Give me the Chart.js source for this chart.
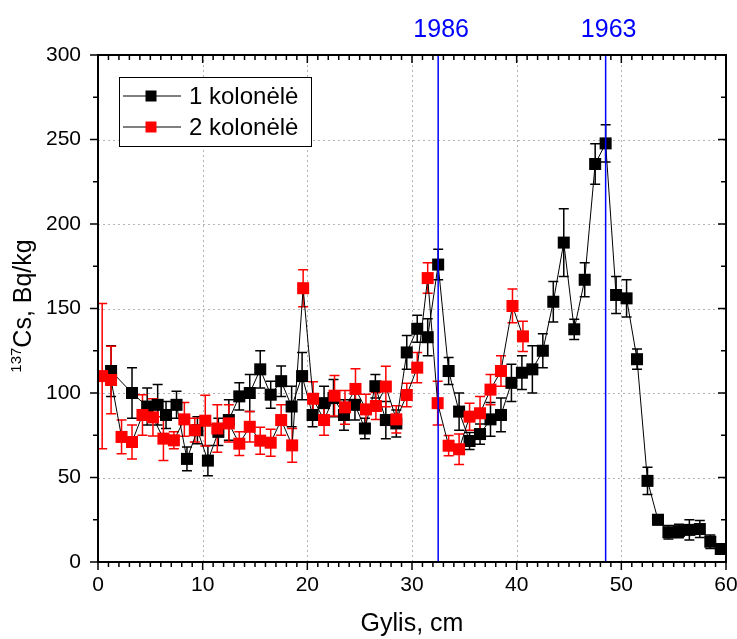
<!DOCTYPE html>
<html>
<head>
<meta charset="utf-8">
<script src="https://cdn.jsdelivr.net/npm/chart.js@4.4.0/dist/chart.umd.min.js"></script>
<style>
  html, body { margin: 0; padding: 0; background: #ffffff; }
  canvas { display: block; }
</style>
</head>
<body>
<canvas id="c" width="737" height="639"></canvas>
<script>
// ---- Data ----
const seriesLabels = ["1 kolonėlė", "2 kolonėlė"];

const depth1 = [1.25, 3.25, 4.7, 5.7, 6.5, 7.5, 8.5, 9.5, 10.5, 11.5, 12.5, 13.5, 14.5, 15.5, 16.5, 17.5, 18.5, 19.5, 20.5, 21.6, 22.5, 23.5, 24.55, 25.5, 26.5, 27.5, 28.5, 29.5, 30.5, 31.5, 32.5, 33.5, 34.5, 35.5, 36.5, 37.5, 38.5, 39.5, 40.5, 41.5, 42.5, 43.5, 44.5, 45.5, 46.5, 47.5, 48.5, 49.5, 50.5, 51.5, 52.5, 53.5, 54.5, 55.5, 56.5, 57.5, 58.5, 59.5];
const cs1    = [113, 100, 92, 93, 87, 93, 61, 78, 60, 77, 84, 98, 100, 114, 99, 107, 92, 110, 87, 94, 97, 87, 93, 79, 104, 84, 82, 124, 138, 133, 176, 113, 89, 71.6, 75.7, 84.4, 87, 106, 112, 114, 125, 154, 189, 137.7, 167, 235.5, 247.7, 158, 156, 120, 48, 25, 17.6, 18.3, 19, 19.5, 12, 7.7];
const err1   = [15, 15, 11, 12, 8, 8, 7, 8, 9, 8, 12, 8, 11, 11, 8, 9, 12, 14, 7, 10, 11, 9, 9, 6, 7, 11, 8, 10, 8, 11, 9, 8, 11, 5, 6, 10, 10, 11, 10, 14, 10, 12, 20, 6, 10, 12, 11, 11, 11, 6, 8, 3, 4, 4, 6, 5, 4, 3];

const depth2 = [0.4, 1.25, 2.25, 3.25, 4.25, 5.25, 6.25, 7.25, 8.25, 9.25, 10.25, 11.4, 12.5, 13.5, 14.5, 15.5, 16.5, 17.5, 18.55, 19.6, 20.55, 21.6, 22.6, 23.6, 24.6, 25.6, 26.55, 27.5, 28.5, 29.5, 30.5, 31.5, 32.45, 33.5, 34.5, 35.5, 36.5, 37.5, 38.5, 39.6, 40.6];
const cs2    = [110, 107.7, 74, 71, 87, 85.6, 73, 72, 84.4, 78, 83.6, 79, 82, 70, 80, 71.8, 70.6, 84, 69, 162, 96.6, 84, 98.4, 91.5, 102.4, 90.3, 92.3, 103.8, 84.4, 98.8, 115, 168, 94, 68.8, 66.7, 86, 88, 102, 113, 151.5, 133.5];
const err2   = [43, 20, 10, 10, 12, 11, 13, 5, 10, 7, 15, 14, 11, 7, 9, 8, 8, 9, 10, 11, 10, 9, 12, 10, 12, 9, 8, 12, 8, 7, 9, 9, 13, 6, 9, 8, 10, 9, 9, 10, 9];

const markerYears = ["1986", "1963"];
const markerDepths = [32.5, 48.5];

const xTicks = [0, 10, 20, 30, 40, 50, 60];
const yTicks = [0, 50, 100, 150, 200, 250, 300];

const colors = ["#000000", "#ff0000"];
const FONT = "'Liberation Sans', Arial, Helvetica, sans-serif";

function toPoints(xs, ys, es) {
  return xs.map((x, i) => ({ x: x, y: ys[i], e: es[i] }));
}

// ---- Plugins ----
const framePlugin = {
  id: 'frame',
  beforeDatasetsDraw(chart) {
    const { ctx, chartArea: a, scales: { x, y } } = chart;
    ctx.save();
    // dotted grid
    ctx.strokeStyle = '#b4b4b4';
    ctx.lineWidth = 1;
    ctx.setLineDash([2, 3]);
    xTicks.slice(1, -1).forEach(v => {
      const px = Math.round(x.getPixelForValue(v)) + 0.5;
      ctx.beginPath(); ctx.moveTo(px, a.top); ctx.lineTo(px, a.bottom); ctx.stroke();
    });
    yTicks.slice(1, -1).forEach(v => {
      const py = Math.round(y.getPixelForValue(v)) + 0.5;
      ctx.beginPath(); ctx.moveTo(a.left, py); ctx.lineTo(a.right, py); ctx.stroke();
    });
    ctx.setLineDash([]);
    // error bars
    chart.data.datasets.forEach((ds, di) => {
      ctx.strokeStyle = ds.pointBackgroundColor;
      ctx.lineWidth = 1.5;
      ds.data.forEach(p => {
        const px = x.getPixelForValue(p.x);
        const pt = y.getPixelForValue(p.y + p.e);
        const pb = y.getPixelForValue(p.y - p.e);
        ctx.beginPath();
        ctx.moveTo(px, pt); ctx.lineTo(px, pb);
        ctx.moveTo(px - 5, pt); ctx.lineTo(px + 5, pt);
        ctx.moveTo(px - 5, pb); ctx.lineTo(px + 5, pb);
        ctx.stroke();
      });
    });
    ctx.restore();
  },
  afterDatasetsDraw(chart) {
    const { ctx, chartArea: a, scales: { x, y } } = chart;
    ctx.save();
    // blue reference lines and years
    ctx.strokeStyle = '#0000ff';
    ctx.lineWidth = 1.5;
    ctx.fillStyle = '#0000ff';
    ctx.font = '25px ' + FONT;
    ctx.textAlign = 'center';
    ctx.textBaseline = 'middle';
    markerDepths.forEach((d, i) => {
      const px = x.getPixelForValue(d);
      ctx.beginPath(); ctx.moveTo(px, a.top); ctx.lineTo(px, a.bottom); ctx.stroke();
      ctx.fillText(markerYears[i], px + 3, 30);
    });
    // ticks
    ctx.strokeStyle = '#000000';
    ctx.lineWidth = 1.5;
    for (let v = 0; v <= 60; v += 1) {
      const px = x.getPixelForValue(v);
      const major = v % 10 === 0;
      const L = major ? 8 : 5;
      ctx.beginPath();
      ctx.moveTo(px, a.bottom); ctx.lineTo(px, a.bottom + L);
      ctx.moveTo(px, a.top); ctx.lineTo(px, a.top + L);
      ctx.stroke();
    }
    for (let v = 0; v <= 300; v += 25) {
      const py = y.getPixelForValue(v);
      const major = v % 50 === 0;
      const L = major ? 8 : 5;
      ctx.beginPath();
      ctx.moveTo(a.left, py); ctx.lineTo(a.left - L, py);
      ctx.moveTo(a.right, py); ctx.lineTo(a.right - L, py);
      ctx.stroke();
    }
    // frame
    ctx.lineWidth = 2;
    ctx.strokeRect(a.left, a.top, a.right - a.left, a.bottom - a.top);
    ctx.restore();
  },
  afterDraw(chart) {
    const { ctx } = chart;
    ctx.save();
    // y-axis title with superscript
    ctx.translate(24, 306);
    ctx.rotate(-Math.PI / 2);
    ctx.fillStyle = '#000';
    ctx.textBaseline = 'middle';
    ctx.textAlign = 'left';
    const sup = '137', main = 'Cs, Bq/kg';
    ctx.font = '15px ' + FONT;
    const wSup = ctx.measureText(sup).width;
    ctx.font = '25px ' + FONT;
    const wMain = ctx.measureText(main).width;
    const start = -(wSup + wMain) / 2;
    ctx.font = '15px ' + FONT;
    ctx.fillText(sup, start, -7);
    ctx.font = '25px ' + FONT;
    ctx.fillText(main, start + wSup, 0);
    ctx.restore();

    // legend
    ctx.save();
    const bx = 119.5, by = 77.5, bw = 192, bh = 69;
    ctx.fillStyle = '#fff';
    ctx.fillRect(bx, by, bw, bh);
    ctx.strokeStyle = '#000';
    ctx.lineWidth = 1;
    ctx.strokeRect(bx, by, bw, bh);
    const rows = [96, 127];
    chart.data.datasets.forEach((ds, i) => {
      const yy = rows[i];
      ctx.strokeStyle = '#000';
      ctx.lineWidth = 1;
      ctx.beginPath(); ctx.moveTo(123, yy); ctx.lineTo(181, yy); ctx.stroke();
      ctx.fillStyle = ds.pointBackgroundColor;
      ctx.fillRect(151 - 5.5, yy - 5.5, 11, 11);
      ctx.fillStyle = '#000';
      ctx.font = '24px ' + FONT;
      ctx.textAlign = 'left';
      ctx.textBaseline = 'middle';
      ctx.fillText(ds.label, 189, yy + 1);
    });
    ctx.restore();
  }
};

// ---- Chart ----
new Chart(document.getElementById('c'), {
  type: 'scatter',
  data: {
    datasets: [
      {
        label: seriesLabels[0],
        data: toPoints(depth1, cs1, err1),
        showLine: true,
        borderColor: '#000000',
        borderWidth: 1,
        pointStyle: 'rect',
        pointRadius: 8.5,
        pointBorderWidth: 0,
        pointBackgroundColor: colors[0],
        pointBorderColor: colors[0],
        order: 2
      },
      {
        label: seriesLabels[1],
        data: toPoints(depth2, cs2, err2),
        showLine: true,
        borderColor: '#000000',
        borderWidth: 1,
        pointStyle: 'rect',
        pointRadius: 8.5,
        pointBorderWidth: 0,
        pointBackgroundColor: colors[1],
        pointBorderColor: colors[1],
        order: 1
      }
    ]
  },
  options: {
    responsive: false,
    animation: false,
    devicePixelRatio: 1,
    events: [],
    layout: { padding: { top: 55, right: 11, left: 0, bottom: 0 } },
    plugins: { legend: { display: false }, tooltip: { enabled: false } },
    scales: {
      x: {
        type: 'linear', min: 0, max: 60,
        afterFit(s) { s.height = 77; s.paddingLeft = 0; s.paddingRight = 0; },
        afterBuildTicks(s) { s.ticks = xTicks.map(v => ({ value: v })); },
        grid: { display: false, drawTicks: false },
        border: { display: false },
        ticks: { color: '#000', padding: 11, maxRotation: 0, font: { family: FONT, size: 21 } },
        title: { display: true, text: 'Gylis, cm', color: '#000', padding: { top: 0, bottom: 0 }, font: { family: FONT, size: 25 } }
      },
      y: {
        type: 'linear', min: 0, max: 300,
        afterFit(s) { s.width = 98; s.paddingTop = 0; s.paddingBottom = 0; },
        afterBuildTicks(s) { s.ticks = yTicks.map(v => ({ value: v })); },
        grid: { display: false, drawTicks: false },
        border: { display: false },
        ticks: { color: '#000', padding: 17, font: { family: FONT, size: 21 } }
      }
    }
  },
  plugins: [framePlugin]
});
</script>
</body>
</html>
